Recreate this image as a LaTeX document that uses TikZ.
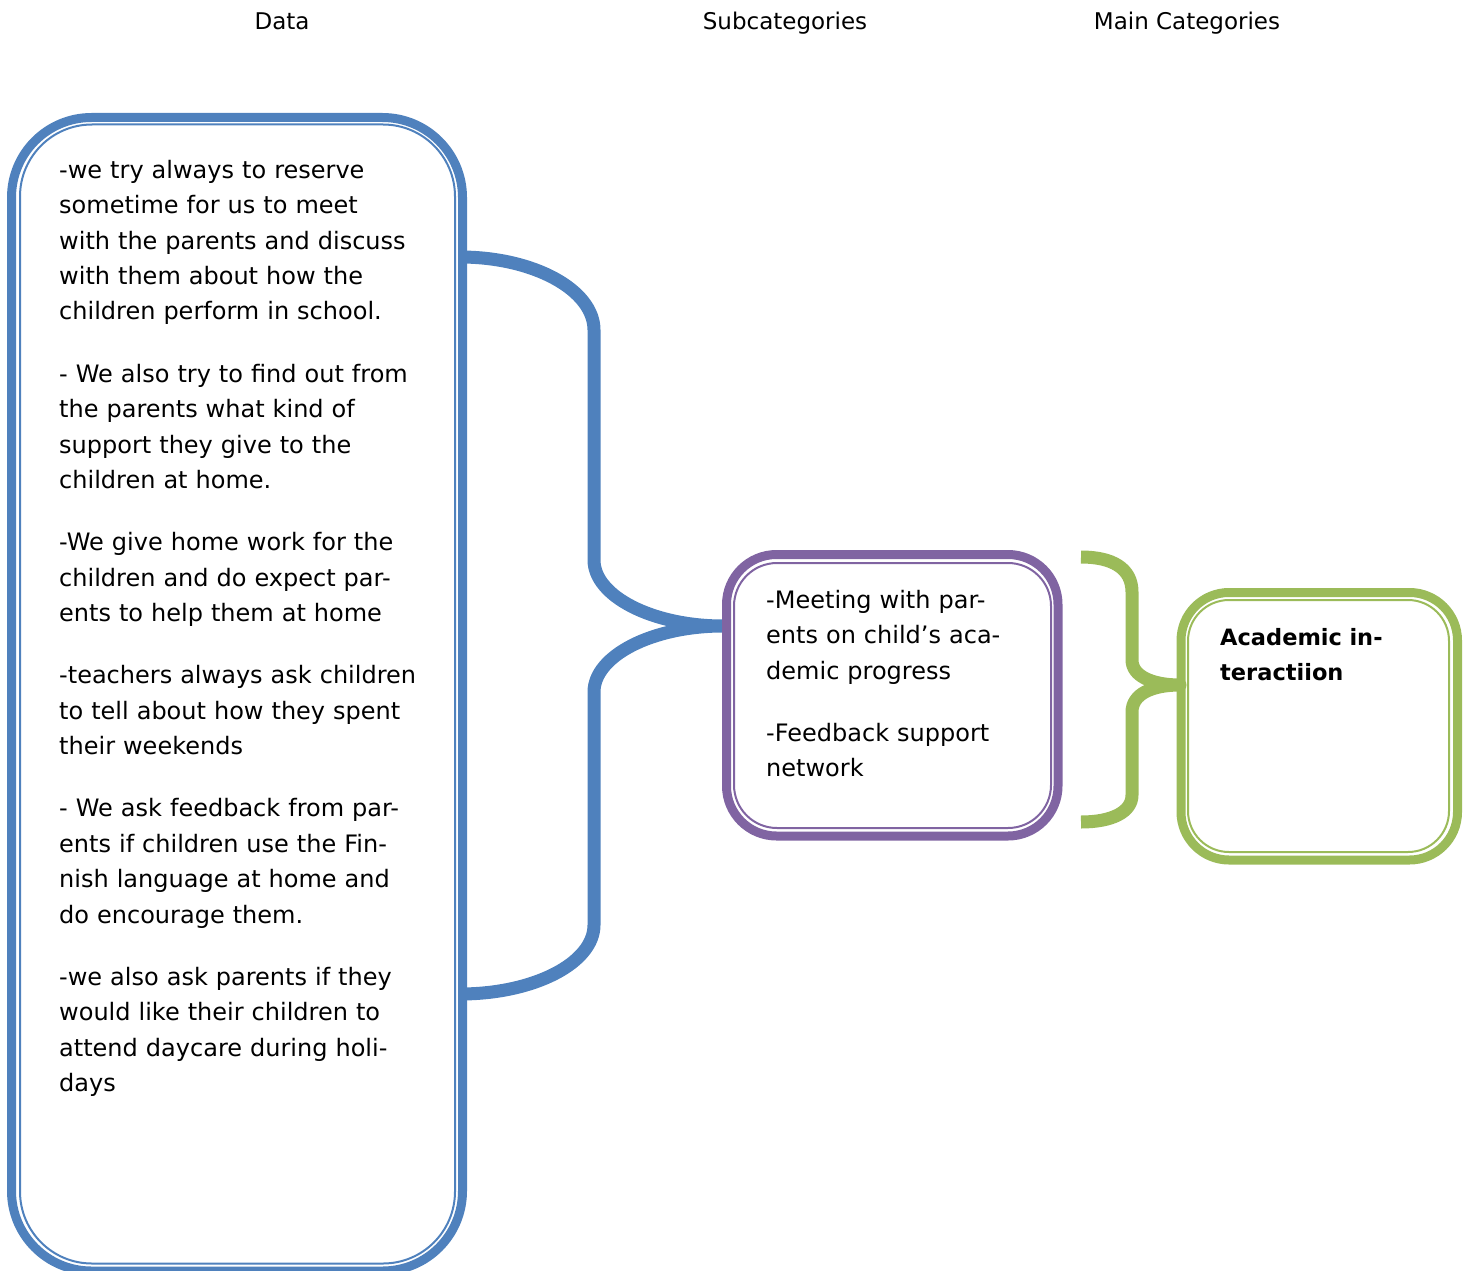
\documentclass[tikz,border=0pt]{standalone}
\usepackage{fontspec}
\setmainfont{DejaVu Sans}
\definecolor{bblue}{HTML}{4F81BD}
\definecolor{bpurple}{HTML}{8064A2}
\definecolor{bgreen}{HTML}{9BBB59}
\begin{document}
\begin{tikzpicture}[x=1pt,y=-1pt,
  outerframe/.style={draw=#1, line width=9pt, inner sep=0pt, rectangle},
  innerframe/.style={draw=#1, line width=2pt, inner sep=0pt, rectangle},
  bracepath/.style={draw=#1, line width=13pt, line cap=butt, line join=round},
  header/.style={anchor=base, inner sep=0pt, font=\fontsize{23}{28}\selectfont},
  bodytext/.style={anchor=base west, inner sep=0pt, align=left, text width=#1,
     font=\fontsize{24}{35.5}\selectfont},
]
\useasboundingbox (0,0) rectangle (1472,1271);

% headers
\node[header] (hdata) at (282,30) {Data};
\node[header] (hsub) at (785,30) {Subcategories};
\node[header] (hmain) at (1187,30) {Main Categories};

% braces (drawn under the frames)
\coordinate (bt) at (460,257);
\coordinate (btip) at (723,626);
\coordinate (bb) at (460,994);
\draw[bracepath=bblue] (bt) .. controls (534,257) and (594,290) .. (594,330)
  -- (594,560) .. controls (594,596) and (652,626) .. (btip)
  .. controls (652,626) and (594,656) .. (594,692)
  -- (594,925) .. controls (594,963) and (534,994) .. (bb);

\coordinate (gt) at (1081,557);
\coordinate (gtip) at (1180,685);
\coordinate (gb) at (1081,822);
\draw[bracepath=bgreen] (gt) .. controls (1112,557) and (1132,568) .. (1132,592)
  -- (1132,660) .. controls (1132,676) and (1152,685) .. (gtip)
  .. controls (1152,685) and (1132,694) .. (1132,712)
  -- (1132,795) .. controls (1132,812) and (1112,822) .. (gb);

% frames
\node[outerframe=bblue, rounded corners=80pt, minimum width=451pt, minimum height=1153.5pt] (data) at (237,694.25) {};
\node[innerframe=bblue, rounded corners=72pt, minimum width=435pt, minimum height=1139pt] (datain) at (237.5,694) {};

\node[outerframe=bpurple, rounded corners=50pt, minimum width=331.5pt, minimum height=281.5pt] (sub) at (892.25,695.25) {};
\node[innerframe=bpurple, rounded corners=43pt, minimum width=317pt, minimum height=265pt] (subin) at (892.5,695.5) {};

\node[outerframe=bgreen, rounded corners=48pt, minimum width=276.5pt, minimum height=267.5pt] (main) at (1319.25,726.25) {};
\node[innerframe=bgreen, rounded corners=41pt, minimum width=261pt, minimum height=252pt] (mainin) at (1318.5,726) {};

% texts
\node[bodytext=400pt] (datatext) at (59,178) {%
-we try always to reserve\\
sometime for us to meet\\
with the parents and discuss\\
with them about how the\\
children perform in school.\\[26.5pt]
- We also try to find out from\\
the parents what kind of\\
support they give to the\\
children at home.\\[26.5pt]
-We give home work for the\\
children and do expect par-\\
ents to help them at home\\[26.5pt]
-teachers always ask children\\
to tell about how they spent\\
their weekends\\[26.5pt]
- We ask feedback from par-\\
ents if children use the Fin-\\
nish language at home and\\
do encourage them.\\[26.5pt]
-we also ask parents if they\\
would like their children to\\
attend daycare during holi-\\
days};

\node[bodytext=280pt] (subtext) at (766,608) {%
-Meeting with par-\\
ents on child’s aca-\\
demic progress\\[26.5pt]
-Feedback support\\
network};

\node[bodytext=230pt, font=\fontsize{22.5}{35.5}\selectfont\bfseries] (maintext) at (1220,645) {%
Academic in-\\
teractiion};
\end{tikzpicture}
\end{document}
